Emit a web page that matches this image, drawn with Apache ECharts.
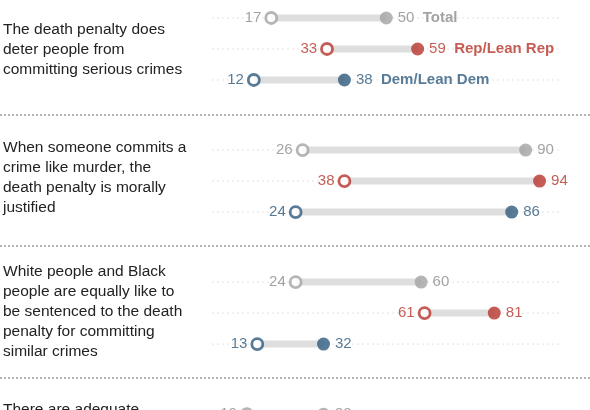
<!DOCTYPE html>
<html>
<head>
<meta charset="utf-8">
<script src="https://cdn.jsdelivr.net/npm/echarts@6/dist/echarts.min.js"></script>
<style>html,body{margin:0;padding:0;background:#fff;overflow:hidden}#chart{width:590px;height:520px}</style>
</head>
<body>
<div id="chart"></div>
<script>
// statements (left column)
var questions = [
  'The death penalty does\ndeter people from\ncommitting serious crimes',
  'When someone commits a\ncrime like murder, the\ndeath penalty is morally\njustified',
  'White people and Black\npeople are equally like to\nbe sentenced to the death\npenalty for committing\nsimilar crimes',
  'There are adequate\nprotections'
];
var groupNames = ['Total', 'Rep/Lean Rep', 'Dem/Lean Dem'];
var colors = ['#a3a3a3', '#b7352c', '#2e5a7d'];
var labelColors = ['#8c8c8c', '#b7352c', '#2e5a7d'];
// hollow = earlier, filled = later
var totalOld = [17, 26, 24, 10];
var totalNew = [50, 90, 60, 32];
var repOld = [33, 38, 61, 14];
var repNew = [59, 94, 81, 44];
var demOld = [12, 24, 13, 8];
var demNew = [38, 86, 32, 22];

var olds = [totalOld, repOld, demOld];
var news = [totalNew, repNew, demNew];
var GROUP_STEP = 4.26;
var FONT = 'Liberation Sans';

var series = [];
var graphics = [];
var chart = echarts.init(document.getElementById('chart'));

questions.forEach(function (q, g) {
  for (var r = 0; r < 3; r++) {
    var y = g * GROUP_STEP + r;
    // faint dotted guide
    series.push({type: 'line', silent: true, symbol: 'none', z: 1,
      lineStyle: {color: '#e2e2e2', width: 1, type: [2, 3]},
      data: [[0, y], [100, y]]});
    // connecting bar
    series.push({type: 'line', silent: true, symbol: 'none', z: 2,
      lineStyle: {color: '#dedede', width: 7, cap: 'butt'},
      data: [[olds[r][g], y], [news[r][g], y]]});
    // hollow point
    series.push({type: 'scatter', z: 3, symbolSize: 11,
      itemStyle: {color: '#fff', borderColor: colors[r], borderWidth: 2.8},
      label: {show: true, position: 'left', distance: 3, color: labelColors[r], fontSize: 15,
        fontFamily: FONT, formatter: function (p) { return p.value[0]; }},
      data: [[olds[r][g], y]]});
    // filled point
    var isFirst = g === 0;
    series.push({type: 'scatter', z: 3, symbolSize: 13,
      itemStyle: {color: colors[r]},
      label: {show: true, position: 'right', distance: 5, color: labelColors[r], fontSize: 15,
        fontFamily: FONT,
        formatter: (function (rr) { return function (p) {
          return p.value[0] + (isFirst ? '  {b|' + groupNames[rr] + '}' : '');
        }; })(r),
        rich: {b: {fontWeight: 'bold', fontSize: 15, color: labelColors[r], fontFamily: FONT}}},
      data: [[news[r][g], y]]});
  }
  graphics.push({type: 'text', left: 3, top: [20, 138, 262, 400][g],
    style: {text: q, font: '15.5px "Liberation Sans"', lineHeight: 20, fill: '#222'}});
  if (g < 3) {
    graphics.push({type: 'line', shape: {x1: 0, y1: [115, 246, 378][g], x2: 590, y2: [115, 246, 378][g]},
      style: {stroke: '#9a9a9a', lineWidth: 1.5, lineDash: [2, 2]}});
  }
});

var option = {
  animation: false,
  backgroundColor: '#fff',
  grid: {left: 212, width: 348.5, top: 0, height: 520},
  xAxis: {type: 'value', min: 0, max: 100, show: false},
  yAxis: {type: 'value', inverse: true, min: -0.58, max: -0.58 + 520 / 31, show: false},
  graphic: graphics,
  series: series
};
chart.setOption(option);
</script>
</body>
</html>
